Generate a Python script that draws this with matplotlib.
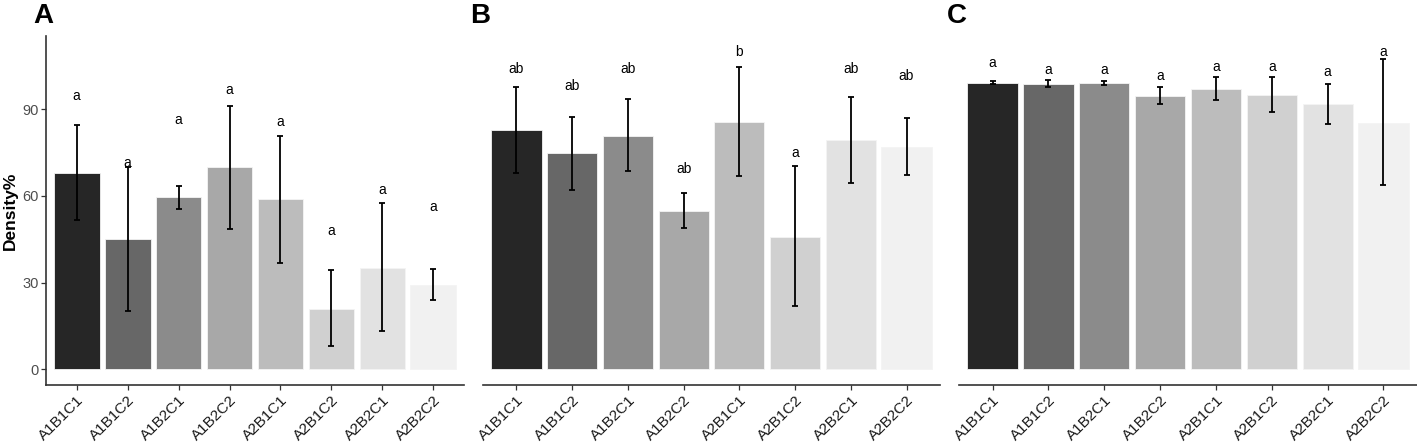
import matplotlib
matplotlib.use("Agg")
import matplotlib.pyplot as plt

plt.rcParams["font.family"] = ["Liberation Sans", "DejaVu Sans"]

groups = ["A1B1C1", "A1B1C2", "A1B2C1", "A1B2C2",
          "A2B1C1", "A2B1C2", "A2B2C1", "A2B2C2"]

# panel A
a_mean = [68.0, 45.0, 59.5, 70.0, 58.8, 21.0, 35.2, 29.3]
a_hi = [84.7, 70.1, 63.6, 91.1, 80.8, 34.3, 57.5, 34.8]
a_lo = [51.6, 20.0, 55.4, 48.7, 36.7, 7.9, 13.2, 24.1]
a_lab = ["a", "a", "a", "a", "a", "a", "a", "a"]
a_lab_y = [94.6, 71.3, 86.3, 96.7, 85.5, 47.8, 62.0, 56.0]

# panel B
b_mean = [82.8, 74.7, 80.9, 54.9, 85.7, 45.8, 79.2, 77.0]
b_hi = [97.7, 87.5, 93.6, 61.1, 104.8, 70.2, 94.1, 87.0]
b_lo = [68.0, 61.9, 68.5, 48.9, 66.8, 21.8, 64.4, 67.2]
b_lab = ["ab", "ab", "ab", "ab", "b", "a", "ab", "ab"]
b_lab_y = [103.9, 98.2, 103.9, 69.2, 109.8, 75.0, 103.9, 101.6]

# panel C
c_mean = [99.2, 98.8, 99.1, 94.7, 97.1, 94.9, 91.8, 85.3]
c_hi = [99.8, 100.1, 99.9, 97.6, 101.3, 101.1, 98.9, 107.3]
c_lo = [98.9, 97.7, 98.5, 92.0, 93.1, 89.0, 85.0, 63.8]
c_lab = ["a", "a", "a", "a", "a", "a", "a", "a"]
c_lab_y = [105.9, 103.7, 103.7, 101.6, 104.6, 104.6, 102.8, 109.7]

greys = ["#262626", "#676767", "#8b8b8b", "#a8a8a8",
         "#bcbcbc", "#d0d0d0", "#e2e2e2", "#f1f1f1"]

fig = plt.figure(figsize=(14.17, 4.42), dpi=100)
boxes = [(46, 464), (483, 940), (959, 1417)]
tag_x = [33, 470, 947]
panels = [
    ("A", a_mean, a_hi, a_lo, a_lab, a_lab_y),
    ("B", b_mean, b_hi, b_lo, b_lab, b_lab_y),
    ("C", c_mean, c_hi, c_lo, c_lab, c_lab_y),
]

for i, (tag, mean, hi, lo, lab, lab_y) in enumerate(panels):
    x0, x1 = boxes[i]
    ax = fig.add_axes([x0 / 1417, 57 / 442, (x1 - x0) / 1417, 349 / 442])
    xs = list(range(1, len(groups) + 1))
    ax.bar(xs, mean, width=0.9, color=greys, edgecolor="#f4f4f4", linewidth=0.6)
    err = [[m - l for m, l in zip(mean, lo)], [h - m for h, m in zip(hi, mean)]]
    ax.errorbar(xs, mean, yerr=err, fmt="none", ecolor="black",
                elinewidth=1.3, capsize=2.2, capthick=1.3)
    for x, t, y in zip(xs, lab, lab_y):
        ax.text(x, y, t, ha="center", va="center", fontsize=10)
    ax.set_xlim(0.4, 8.6)
    ax.set_ylim(-5.5, 115.4)
    ax.set_xticks(xs)
    ax.set_xticklabels(groups, rotation=45, ha="right", rotation_mode="anchor",
                       fontsize=11, color="#1a1a1a")
    for s in ("top", "right"):
        ax.spines[s].set_visible(False)
    ax.spines["bottom"].set_color("#333333")
    ax.spines["bottom"].set_linewidth(1.2)
    ax.tick_params(axis="x", length=3.5, width=0.9, color="#333333", pad=2)
    if i == 0:
        ax.spines["left"].set_color("#333333")
        ax.spines["left"].set_linewidth(1.2)
        ax.set_yticks([0, 30, 60, 90])
        ax.tick_params(axis="y", length=3.5, width=0.9, color="#333333",
                       labelsize=10.5, labelcolor="#4d4d4d", pad=2)
        ax.set_ylabel("Density%", fontsize=12.5, fontweight="bold", labelpad=3)
    else:
        ax.spines["left"].set_visible(False)
        ax.set_yticks([])
    fig.text(tag_x[i] / 1417, 1 - 16 / 442, tag,
             fontsize=20, fontweight="bold", ha="left", va="center")

fig.savefig("out.png", dpi=100)
